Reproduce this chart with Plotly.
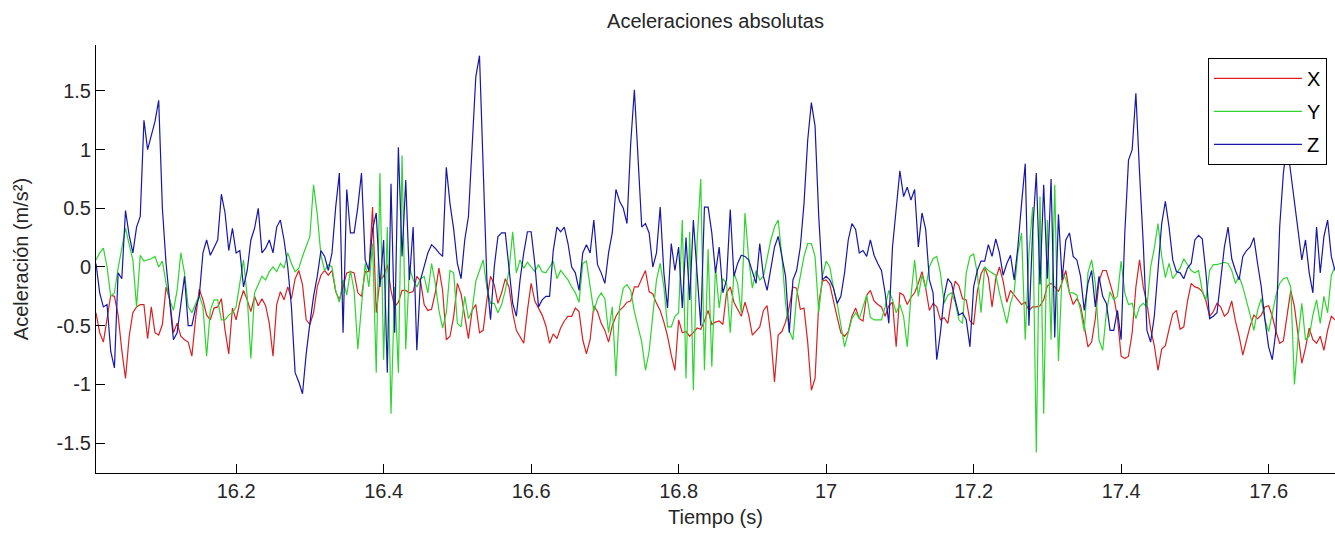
import numpy as np
import plotly.graph_objects as go

# Acceleration samples (m/s^2), one every 5 ms starting at t = 16.01 s
acc_x = [
    -0.39, -0.56, -0.64, -0.45, -0.24, -0.25, -0.41, -0.71, -0.95, -0.59,
    -0.39, -0.34, -0.32, -0.32, -0.61, -0.34, -0.56, -0.58, -0.49, -0.17,
    -0.28, -0.56, -0.48, -0.59, -0.62, -0.64, -0.76, -0.44, -0.19, -0.28,
    -0.41, -0.45, -0.35, -0.34, -0.27, -0.54, -0.74, -0.35, -0.45, -0.30,
    -0.20, -0.28, -0.38, -0.25, -0.33, -0.27, -0.33, -0.48, -0.76, -0.32,
    -0.21, -0.28, -0.17, -0.27, -0.10, -0.03, -0.15, -0.45, -0.49, -0.39,
    -0.17, -0.07, -0.03, -0.07, -0.03, -0.21, -0.28, -0.17, -0.05, -0.04,
    -0.05, -0.22, -0.25, -0.04, -0.04, 0.51, -0.39, -0.11, -0.08, 0.02,
    -0.20, -0.34, -0.30, -0.20, -0.20, -0.22, -0.21, -0.08, -0.12, -0.32,
    -0.37, -0.36, -0.22, -0.01, -0.20, -0.62, -0.59, -0.42, -0.14, -0.23,
    -0.42, -0.61, -0.37, -0.32, -0.56, -0.54, -0.28, -0.08, -0.15, -0.31,
    -0.22, -0.10, -0.17, -0.39, -0.54, -0.60, -0.65, -0.37, -0.14, -0.29,
    -0.35, -0.41, -0.50, -0.65, -0.57, -0.61, -0.52, -0.46, -0.42, -0.42,
    -0.35, -0.38, -0.62, -0.74, -0.62, -0.33, -0.38, -0.48, -0.54, -0.64,
    -0.50, -0.42, -0.37, -0.34, -0.30, -0.29, -0.17, -0.17, -0.10, -0.03,
    -0.21, -0.23, -0.31, -0.37, -0.47, -0.59, -0.75, -0.88, -0.45, -0.56,
    -0.55, -0.59, -0.56, -0.52, -0.53, -0.46, -0.37, -0.49, -0.47, -0.46,
    -0.49, -0.22, -0.17, -0.30, -0.36, -0.42, -0.30, -0.41, -0.58, -0.54,
    -0.51, -0.37, -0.33, -0.59, -0.98, -0.58, -0.55, -0.47, -0.34, -0.17,
    -0.18, -0.36, -0.35, -0.64, -1.05, -0.95, -0.31, -0.12, -0.11, -0.15,
    -0.30, -0.43, -0.56, -0.59, -0.55, -0.42, -0.35, -0.44, -0.46, -0.24,
    -0.20, -0.29, -0.32, -0.34, -0.42, -0.33, -0.30, -0.68, -0.22, -0.24,
    -0.32, -0.26, -0.22, -0.14, -0.04, -0.18, -0.37, -0.31, -0.34, -0.45,
    -0.43, -0.48, -0.28, -0.12, -0.16, -0.27, -0.28, -0.46, -0.49, -0.21,
    -0.06, 0.00, -0.09, -0.34, -0.10, 0.00, -0.12, -0.30, -0.20, -0.24,
    -0.28, -0.32, -0.30, -0.37, -0.34, -0.34, -0.33, -0.28, -0.16, -0.14,
    -0.17, -0.21, -0.13, -0.03, -0.22, -0.32, -0.27, -0.33, -0.50, -0.68,
    -0.64, -0.44, -0.12, -0.03, -0.03, -0.13, -0.25, -0.43, -0.76, -0.78,
    -0.76, -0.56, -0.17, 0.06, -0.17, -0.31, -0.53, -0.67, -0.88, -0.70,
    -0.67, -0.53, -0.40, -0.37, -0.53, -0.51, -0.29, -0.14, -0.17, -0.18,
    -0.21, -0.29, -0.42, -0.38, -0.31, -0.34, -0.42, -0.39, -0.29, -0.46,
    -0.59, -0.75, -0.62, -0.50, -0.41, -0.44, -0.41, -0.34, -0.33, -0.42,
    -0.55, -0.65, -0.63, -0.42, -0.20, -0.34, -0.56, -0.82, -0.69, -0.52,
    -0.62, -0.65, -0.59, -0.71, -0.54, -0.42, -0.45,
]

acc_y = [
    0.06, 0.12, 0.16, 0.00, -0.25, -0.22, -0.01, 0.17, 0.33, 0.19,
    0.06, -0.34, 0.10, 0.05, 0.06, 0.07, 0.09, 0.00, 0.05, -0.14,
    -0.28, -0.37, -0.20, 0.12, -0.05, -0.34, -0.39, -0.31, -0.24, -0.34,
    -0.76, -0.37, -0.28, -0.28, -0.45, -0.45, -0.41, -0.39, -0.34, -0.14,
    0.06, -0.25, -0.78, -0.22, -0.15, -0.08, -0.11, -0.04, 0.00, -0.04,
    0.03, -0.01, 0.12, 0.03, -0.04, -0.01, 0.09, 0.17, 0.26, 0.70,
    0.45, 0.10, -0.03, 0.02, 0.00, -0.20, -0.30, -0.11, -0.24, -0.03,
    -0.20, -0.70, -0.30, 0.03, -0.17, 0.20, -0.90, 0.80, -0.79, 0.34,
    -1.25, -0.17, -0.90, 0.95, -0.70, 0.00, -0.11, -0.17, -0.10, -0.08,
    -0.22, 0.03, -0.14, -0.37, -0.52, -0.39, -0.03, -0.05, -0.48, -0.51,
    -0.25, -0.44, -0.37, -0.12, -0.03, 0.06, -0.18, -0.31, -0.31, -0.39,
    -0.32, -0.20, -0.03, 0.30, -0.05, 0.06, -0.01, 0.04, 0.00, -0.04,
    0.02, -0.04, -0.05, 0.00, 0.05, -0.10, -0.03, -0.07, -0.11, -0.17,
    -0.22, -0.30, 0.03, 0.05, -0.15, -0.38, -0.27, -0.22, -0.27, -0.56,
    -0.34, -0.93, -0.34, -0.18, -0.15, -0.20, -0.38, -0.51, -0.64, -0.88,
    -0.72, -0.41, -0.11, 0.03, -0.17, -0.51, -0.51, -0.42, -0.39, 0.40,
    -0.95, 0.30, -1.05, 0.20, 0.75, -0.88, 0.15, -0.85, 0.00, -0.35,
    -0.10, -0.14, -0.56, -0.05, -0.14, -0.39, 0.46, 0.07, -0.18, -0.03,
    -0.11, -0.08, 0.09, 0.23, 0.34, 0.40, 0.09, -0.31, -0.54, -0.62,
    -0.25, -0.08, 0.09, 0.20, 0.20, 0.09, -0.39, -0.08, 0.05, 0.00,
    -0.18, -0.31, -0.49, -0.68, -0.56, -0.44, -0.39, -0.44, -0.34, -0.24,
    -0.43, -0.45, -0.45, -0.45, -0.34, -0.20, -0.28, -0.39, -0.32, -0.42,
    -0.68, -0.25, 0.06, -0.25, -0.07, -0.18, 0.00, 0.07, 0.09, -0.05,
    -0.31, -0.24, -0.22, -0.30, -0.45, -0.48, -0.05, 0.09, 0.11, -0.05,
    -0.39, 0.00, -0.03, -0.05, -0.07, -0.22, -0.35, -0.48, -0.31, -0.21,
    0.12, 0.29, -0.62, 0.12, 0.51, -1.58, 0.60, -1.25, 0.40, -0.62,
    0.70, -0.80, -0.05, -0.10, -0.22, -0.22, -0.24, -0.37, -0.55, -0.05,
    0.06, -0.14, -0.62, -0.71, -0.39, -0.21, -0.28, -0.25, 0.05, -0.22,
    -0.32, -0.31, -0.44, -0.34, -0.31, -0.34, 0.00, 0.16, 0.37, 0.09,
    -0.09, 0.03, -0.10, -0.05, -0.01, 0.07, 0.02, -0.03, -0.05, -0.03,
    -0.20, -0.28, -0.03, 0.02, 0.02, 0.03, 0.04, 0.03, -0.03, -0.14,
    -0.08, -0.17, -0.28, -0.41, -0.54, -0.37, -0.27, -0.45, -0.55, -0.39,
    -0.24, -0.14, -0.10, -0.09, -0.17, -1.00, -0.60, -0.31, -0.62, -0.59,
    -0.41, -0.28, -0.48, -0.25, -0.39, -0.07, 0.00,
]

acc_z = [
    0.03, -0.22, -0.34, -0.32, -0.72, -0.86, -0.05, -0.10, 0.48, 0.27,
    0.12, 0.34, 0.43, 1.25, 1.00, 1.12, 1.24, 1.42, 0.50, 0.03,
    -0.31, -0.62, -0.56, -0.31, -0.08, -0.50, -0.50, -0.35, -0.25, 0.12,
    0.23, 0.10, 0.16, 0.23, 0.62, 0.46, 0.14, 0.33, 0.12, 0.14,
    -0.17, -0.03, 0.23, 0.33, 0.50, 0.12, 0.16, 0.23, 0.12, 0.34,
    0.40, 0.23, 0.00, -0.34, -0.90, -0.98, -1.08, -0.74, -0.48, -0.25,
    -0.08, 0.14, 0.09, -0.03, 0.12, 0.51, 0.80, -0.56, 0.66, 0.29,
    0.29, 0.51, 0.80, 0.06, -0.03, 0.32, 0.46, -0.17, 0.23, -0.90,
    0.71, -0.56, 1.02, 0.09, 0.74, -0.11, 0.34, -0.71, -0.11, 0.00,
    0.12, 0.19, 0.16, 0.12, 0.09, 0.85, 0.54, 0.32, 0.03, -0.10,
    0.23, 0.43, 1.08, 1.62, 1.80, 0.91, -0.11, -0.45, 0.00, 0.26,
    0.29, 0.29, -0.03, -0.31, -0.42, -0.11, 0.12, 0.30, 0.30, 0.03,
    -0.34, -0.28, -0.25, -0.25, 0.14, 0.34, 0.30, 0.34, 0.20, 0.00,
    -0.05, -0.20, 0.12, 0.19, 0.12, 0.40, 0.02, -0.05, -0.14, 0.12,
    0.29, 0.66, 0.56, 0.50, 0.37, 1.05, 1.51, 0.91, 0.34, 0.37,
    0.29, 0.00, 0.12, 0.51, -0.05, -0.35, 0.20, -0.03, 0.17, -0.35,
    0.25, -0.28, 0.40, -0.05, -0.50, 0.51, 0.51, 0.29, -0.05, 0.17,
    -0.22, -0.11, 0.49, -0.08, 0.03, 0.10, 0.09, 0.06, -0.05, -0.14,
    0.20, -0.08, -0.20, -0.03, 0.17, 0.26, 0.10, -0.08, -0.56, -0.11,
    -0.03, 0.17, 0.54, 1.08, 1.40, 1.20, 0.43, -0.11, -0.08, -0.11,
    -0.18, -0.31, -0.25, -0.05, 0.23, 0.37, 0.32, 0.12, 0.14, 0.09,
    0.23, 0.10, 0.03, -0.03, -0.22, -0.48, 0.17, 0.49, 0.82, 0.60,
    0.68, 0.57, 0.66, 0.17, 0.46, 0.32, -0.11, -0.22, -0.79, -0.56,
    -0.25, -0.10, -0.14, -0.28, -0.41, -0.39, -0.45, -0.68, -0.17, -0.03,
    0.05, 0.05, 0.19, 0.09, 0.24, 0.12, -0.07, 0.03, 0.10, -0.11,
    0.17, 0.54, 0.88, -0.50, 0.30, 0.80, -0.15, 0.70, -0.10, 0.75,
    -0.60, 0.45, -0.11, 0.23, 0.29, 0.09, 0.06, -0.08, -0.37, -0.14,
    -0.03, -0.34, -0.08, -0.25, -0.31, -0.54, -0.54, -0.37, -0.62, 0.29,
    0.91, 1.00, 1.48, 0.80, 0.20, -0.54, -0.64, -0.42, -0.03, 0.37,
    0.56, 0.34, 0.06, -0.04, -0.05, -0.10, -0.01, 0.03, 0.23, 0.27,
    0.24, -0.05, -0.44, -0.42, -0.39, -0.11, 0.17, 0.34, 0.07, -0.03,
    -0.11, 0.09, 0.14, 0.17, 0.25, 0.03, -0.17, -0.45, -0.68, -0.79,
    -0.54, 0.34, 0.80, 1.05, 0.80, 0.54, 0.34, 0.06, 0.23, -0.05,
    -0.22, 0.34, -0.05, 0.26, 0.40, 0.09, -0.03,
]

# Sampling grid: 200 Hz starting at 16.01 s
tiempo = np.round(16.01 + 0.005 * np.arange(len(acc_z)), 3)

x_ticks = [16.2, 16.4, 16.6, 16.8, 17.0, 17.2, 17.4, 17.6]
x_tick_labels = ["16.2", "16.4", "16.6", "16.8", "17", "17.2", "17.4", "17.6"]
y_ticks = [-1.5, -1.0, -0.5, 0.0, 0.5, 1.0, 1.5]
y_tick_labels = ["-1.5", "-1", "-0.5", "0", "0.5", "1", "1.5"]

series = [
    ("X", acc_x, "#d62222"),
    ("Y", acc_y, "#2fd42f"),
    ("Z", acc_z, "#1717a8"),
]

FONT = "Liberation Sans, Arial, sans-serif"
TEXT = "#262626"

fig = go.Figure()
for name, vals, color in series:
    fig.add_trace(go.Scatter(
        x=tiempo, y=vals, mode="lines", name=name, legendgroup=name,
        line=dict(color=color, width=1.2),
    ))

fig.update_layout(
    width=1335, height=537,
    margin=dict(l=96, r=0, t=45, b=64),
    paper_bgcolor="white", plot_bgcolor="white",
    font=dict(family=FONT, size=20, color=TEXT),
    title=dict(
        text="Aceleraciones absolutas",
        x=0.5, xref="paper", xanchor="center",
        y=1 - 21 / 537, yref="container", yanchor="middle",
        font=dict(family=FONT, size=20, color=TEXT),
    ),
    legend=dict(
        x=0.9935, y=0.97, xanchor="right", yanchor="top",
        bgcolor="white", bordercolor="black", borderwidth=1,
        font=dict(family=FONT, size=20, color="black"),
        itemwidth=88, tracegroupgap=4,
    ),
    showlegend=True,
)

fig.update_xaxes(
    range=[16.01, 17.69],
    tickvals=x_ticks, ticktext=x_tick_labels,
    ticks="inside", ticklen=9, tickcolor="black",
    showline=True, linecolor="black", linewidth=1, mirror=False,
    showgrid=False, zeroline=False,
    title=dict(text="Tiempo (s)", standoff=8,
               font=dict(family=FONT, size=20, color=TEXT)),
)
fig.update_yaxes(
    range=[-1.755, 1.891],
    tickvals=y_ticks, ticktext=y_tick_labels,
    ticks="inside", ticklen=9, tickcolor="black",
    showline=True, linecolor="black", linewidth=1, mirror=False,
    showgrid=False, zeroline=False,
    title=dict(text="Aceleración (m/s²)", standoff=22,
               font=dict(family=FONT, size=20, color=TEXT)),
)

fig.write_html("out.html")
